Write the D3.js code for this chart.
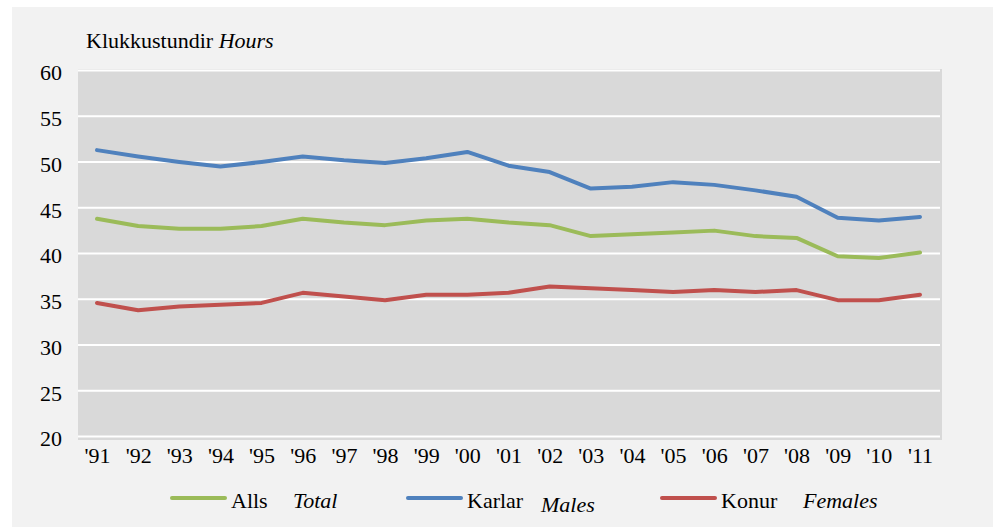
<!DOCTYPE html>
<html>
<head>
<meta charset="utf-8">
<script src="https://cdn.jsdelivr.net/npm/d3@7"></script>
<style>
  body { margin: 0; background: #fff; }
  svg { display: block; }
</style>
</head>
<body>
<svg width="997" height="527"></svg>
<script>
var years = ["'91","'92","'93","'94","'95","'96","'97","'98","'99","'00","'01","'02","'03","'04","'05","'06","'07","'08","'09","'10","'11"];
var males = [51.3,50.6,50.0,49.5,50.0,50.6,50.2,49.9,50.4,51.1,49.6,48.9,47.1,47.3,47.8,47.5,46.9,46.2,43.9,43.6,44.0];
var total = [43.8,43.0,42.7,42.7,43.0,43.8,43.4,43.1,43.6,43.8,43.4,43.1,41.9,42.1,42.3,42.5,41.9,41.7,39.7,39.5,40.1];
var females = [34.6,33.8,34.2,34.4,34.6,35.7,35.3,34.9,35.5,35.5,35.7,36.4,36.2,36.0,35.8,36.0,35.8,36.0,34.9,34.9,35.5];
var yTicks = [20,25,30,35,40,45,50,55,60];

var series = [
    {name: "Alls", en: "Total", values: total, color: "#9bbb59"},
    {name: "Karlar", en: "Males", values: males, color: "#4f81bd"},
    {name: "Konur", en: "Females", values: females, color: "#c0504d"}
];

var serif = "Liberation Serif";
var svg = d3.select("svg");

// outer panel
svg.append("rect")
    .attr("x", 12).attr("y", 7)
    .attr("width", 981).attr("height", 520)
    .attr("fill", "#f2f2f2");

var plot = {left: 78, right: 942, top: 69, bottom: 440};

svg.append("rect")
    .attr("x", plot.left).attr("y", plot.top)
    .attr("width", plot.right - plot.left).attr("height", plot.bottom - plot.top)
    .attr("fill", "#d9d9d9");

var x = d3.scalePoint().domain(years).range([97, 920]);
var y = d3.scaleLinear().domain([20, 60]).range([436.5, 70.5]);

// gridlines
svg.append("g")
    .selectAll("line")
    .data(yTicks)
    .enter().append("line")
    .attr("x1", plot.left).attr("x2", plot.right - 2)
    .attr("y1", function(d) { return y(d); })
    .attr("y2", function(d) { return y(d); })
    .attr("stroke", "#fff")
    .attr("stroke-width", 2);

// y axis labels
var yAxis = svg.append("g")
    .attr("transform", "translate(62,0)")
    .call(d3.axisLeft(y).tickValues(yTicks).tickSize(0).tickPadding(0));
yAxis.select(".domain").remove();
yAxis.selectAll("text")
    .attr("dy", "0.43em")
    .style("font-family", serif)
    .style("font-size", "22px")
    .attr("fill", "#000");

// x axis labels
var xAxis = svg.append("g")
    .attr("transform", "translate(0,440)")
    .call(d3.axisBottom(x).tickSize(0).tickPadding(7));
xAxis.select(".domain").remove();
xAxis.selectAll("text")
    .style("font-family", serif)
    .style("font-size", "22px")
    .attr("fill", "#000");

var line = d3.line()
    .x(function(d, i) { return x(years[i]); })
    .y(function(d) { return y(d); });

svg.selectAll(".series")
    .data(series)
    .enter().append("path")
    .attr("class", "series")
    .attr("d", function(d) { return line(d.values); })
    .attr("fill", "none")
    .attr("stroke", function(d) { return d.color; })
    .attr("stroke-width", 4)
    .attr("stroke-linejoin", "round")
    .attr("stroke-linecap", "round");

// unit label
var unit = svg.append("text")
    .attr("x", 86).attr("y", 48)
    .style("font-family", serif)
    .style("font-size", "22px")
    .attr("fill", "#000");
unit.append("tspan").text("Klukkustundir ");
unit.append("tspan").style("font-style", "italic").text("Hours");

// legend
var legendX = [172, 408, 662];
var legendEnX = [293, 541, 803];
var legendEnY = [508, 512, 508];
var leg = svg.selectAll(".legend")
    .data(series)
    .enter().append("g")
    .attr("class", "legend");
leg.append("line")
    .attr("x1", function(d, i) { return legendX[i]; })
    .attr("x2", function(d, i) { return legendX[i] + 53; })
    .attr("y1", 498).attr("y2", 498)
    .attr("stroke", function(d) { return d.color; })
    .attr("stroke-width", 4)
    .attr("stroke-linecap", "round");
leg.append("text")
    .attr("x", function(d, i) { return legendX[i] + 59; })
    .attr("y", 508)
    .style("font-family", serif)
    .style("font-size", "22px")
    .attr("fill", "#000")
    .text(function(d) { return d.name; });
leg.append("text")
    .attr("x", function(d, i) { return legendEnX[i]; })
    .attr("y", function(d, i) { return legendEnY[i]; })
    .style("font-family", serif)
    .style("font-size", "22px")
    .style("font-style", "italic")
    .attr("fill", "#000")
    .text(function(d) { return d.en; });
</script>
</body>
</html>
